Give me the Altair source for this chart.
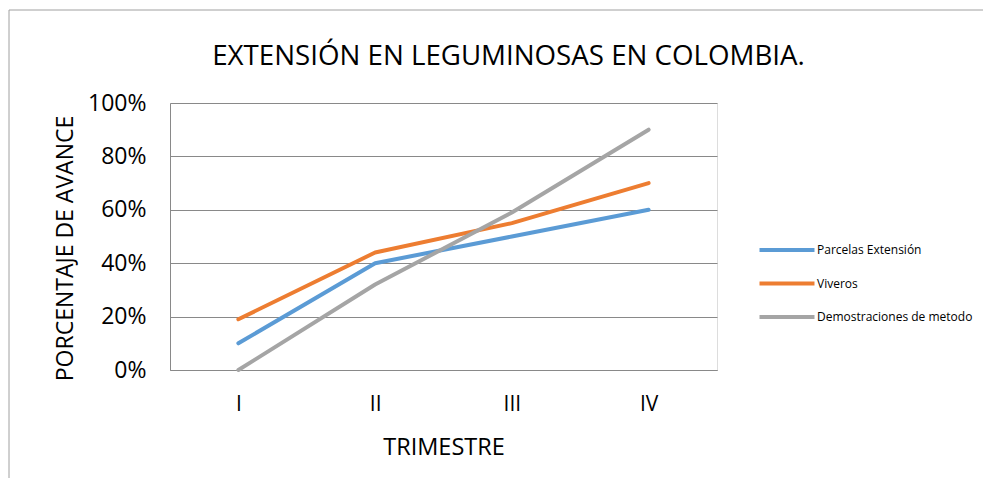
import altair as alt
import pandas as pd

trimestres = ["I", "II", "III", "IV"]
series = ["Parcelas Extensión", "Viveros", "Demostraciones de metodo"]
parcelas = [0.10, 0.40, 0.50, 0.60]
viveros = [0.19, 0.44, 0.55, 0.70]
demostraciones = [0.00, 0.32, 0.59, 0.90]
colors = ["#5B9BD5", "#ED7D31", "#A5A5A5"]
y_ticks = [0, 0.2, 0.4, 0.6, 0.8, 1.0]

rows = []
for s, vals in zip(series, [parcelas, viveros, demostraciones]):
    for t, v in zip(trimestres, vals):
        rows.append({"Trimestre": t, "Serie": s, "Valor": v})
df = pd.DataFrame(rows)

FONT = "Open Sans"
W, H = 547, 267

lines = alt.Chart(df).mark_line(strokeWidth=4, strokeCap="round", strokeJoin="round").encode(
    x=alt.X("Trimestre:N", sort=trimestres,
            scale=alt.Scale(type="point", padding=0.5),
            axis=alt.Axis(title="TRIMESTRE", labelAngle=0, ticks=False, domain=True,
                          domainColor="#898989", labelFont=FONT, labelFontSize=21,
                          labelColor="#000000", labelPadding=23,
                          titleFont=FONT, titleFontSize=23.5, titleFontWeight="normal",
                          titleColor="#000000", titleY=84, titleBaseline="alphabetic")),
    y=alt.Y("Valor:Q", scale=alt.Scale(domain=[0, 1]),
            axis=alt.Axis(title="PORCENTAJE DE AVANCE", format=".0%", values=y_ticks,
                          ticks=False, domain=True, domainColor="#898989",
                          grid=True, gridColor="#898989", gridWidth=1,
                          labelFont=FONT, labelFontSize=23, labelColor="#000000",
                          labelPadding=24,
                          titleFont=FONT, titleFontSize=23, titleFontWeight="normal",
                          titleColor="#000000", titleAngle=270, titleBaseline="middle",
                          titleX=-105, titleY=145)),
    color=alt.Color("Serie:N", sort=series,
                    scale=alt.Scale(domain=series, range=colors),
                    legend=alt.Legend(title=None, orient="none", legendX=601, legendY=131,
                                      symbolType="M-2,0H2", symbolSize=756,
                                      symbolStrokeWidth=4, labelFont=FONT,
                                      labelFontSize=12, labelColor="#000000",
                                      labelOffset=14, rowPadding=9.5)),
)

frame_df = pd.DataFrame({"k": [0]})
left_edge = alt.Chart(frame_df).mark_rule(color="#a0a0a0", strokeWidth=1).encode(
    x=alt.value(-161), y=alt.value(-93), y2=alt.value(400))
top_edge = alt.Chart(frame_df).mark_rule(color="#a0a0a0", strokeWidth=1).encode(
    x=alt.value(-161), x2=alt.value(830), y=alt.value(-93))

chart = alt.layer(left_edge, top_edge, lines).properties(
    width=W, height=H,
    padding={"left": 162, "top": 95, "right": 266, "bottom": 108},
    autosize=alt.AutoSizeParams(type="none"),
    title=alt.TitleParams("EXTENSIÓN EN LEGUMINOSAS EN COLOMBIA.", font=FONT, fontSize=27.7,
                          fontWeight="normal", color="#000000", anchor="middle",
                          frame="group", dx=65, offset=-83, baseline="alphabetic"),
).configure_view(stroke=None).configure(background="#ffffff")

chart.save("out.html", embed_options={"renderer": "svg", "actions": False})
